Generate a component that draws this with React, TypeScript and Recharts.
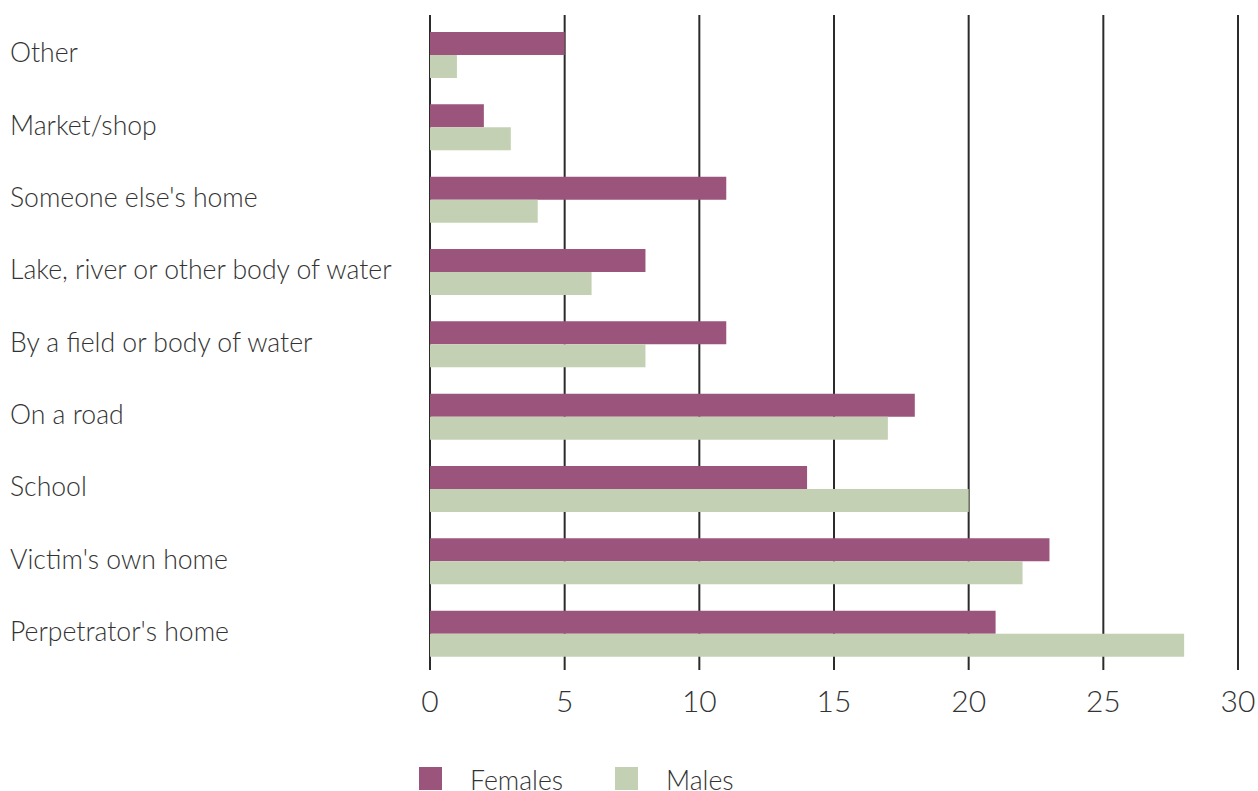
import React from 'react';
import { BarChart, Bar, XAxis, YAxis, CartesianGrid, Legend } from 'recharts';

const categories = [
  'Other',
  'Market/shop',
  "Someone else's home",
  'Lake, river or other body of water',
  'By a field or body of water',
  'On a road',
  'School',
  "Victim's own home",
  "Perpetrator's home",
];
const females = [5, 2, 11, 8, 11, 18, 14, 23, 21];
const males = [1, 3, 4, 6, 8, 17, 20, 22, 28];
const xTicks = [0, 5, 10, 15, 20, 25, 30];
const seriesNames = ['Females', 'Males'];
const seriesColors = ['#9B557C', '#C4D0B3'];

const data = categories.map((name, i) => ({ name, Females: females[i], Males: males[i] }));

const FONT = 'Lato, "Open Sans", sans-serif';

const YTick = (props: any) => {
  const { y, payload } = props;
  return (
    <text x={10} y={y - 3} dominantBaseline="central" textAnchor="start" fontFamily={FONT} fontWeight={300} fontSize={26.6} fill="#333">
      {payload.value}
    </text>
  );
};

const XTick = (props: any) => {
  const { x, y, payload } = props;
  return (
    <text x={x} y={y + 42} textAnchor="middle" fontFamily={FONT} fontWeight={300} fontSize={30} fill="#333">
      {payload.value}
    </text>
  );
};

const LegendContent = () => (
  <div style={{ display: 'flex', alignItems: 'flex-start', fontFamily: FONT, fontWeight: 300, fontSize: 26.6, color: '#333' }}>
    {seriesNames.map((n, i) => (
      <div key={n} style={{ display: 'flex', alignItems: 'flex-start', width: i === 0 ? 196 : 150 }}>
        <div style={{ width: 23, height: 23, background: seriesColors[i], marginRight: 28 }} />
        <span style={{ lineHeight: '30px', marginTop: -2 }}>{n}</span>
      </div>
    ))}
  </div>
);

export default function App() {
  return (
    <div style={{ position: 'absolute', left: 0, top: 0, width: 1258, height: 791, background: '#fff', overflow: 'hidden' }}>
      <BarChart
        width={1258}
        height={791}
        data={data}
        layout="vertical"
        margin={{ top: 15, right: 20, bottom: 81, left: 0 }}
        barSize={23}
        barGap={0}
      >
        <CartesianGrid horizontal={false} vertical={true} stroke="#2b2b2b" strokeWidth={2} />
        <XAxis
          type="number"
          domain={[0, 30]}
          ticks={xTicks}
          interval={0}
          axisLine={false}
          tickLine={false}
          tickSize={0}
          tickMargin={0}
          height={40}
          tick={<XTick />}
        />
        <YAxis
          type="category"
          dataKey="name"
          width={430}
          axisLine={false}
          tickLine={false}
          interval={0}
          padding={{ top: 4, bottom: 0 }}
          tick={<YTick />}
        />
        <Legend
          layout="vertical"
          align="center"
          verticalAlign="middle"
          content={<LegendContent />}
          wrapperStyle={{ position: 'absolute', top: 767, left: 419, width: 400, height: 30 }}
        />
        <Bar dataKey="Females" fill={seriesColors[0]} isAnimationActive={false} />
        <Bar dataKey="Males" fill={seriesColors[1]} isAnimationActive={false} />
      </BarChart>
    </div>
  );
}
